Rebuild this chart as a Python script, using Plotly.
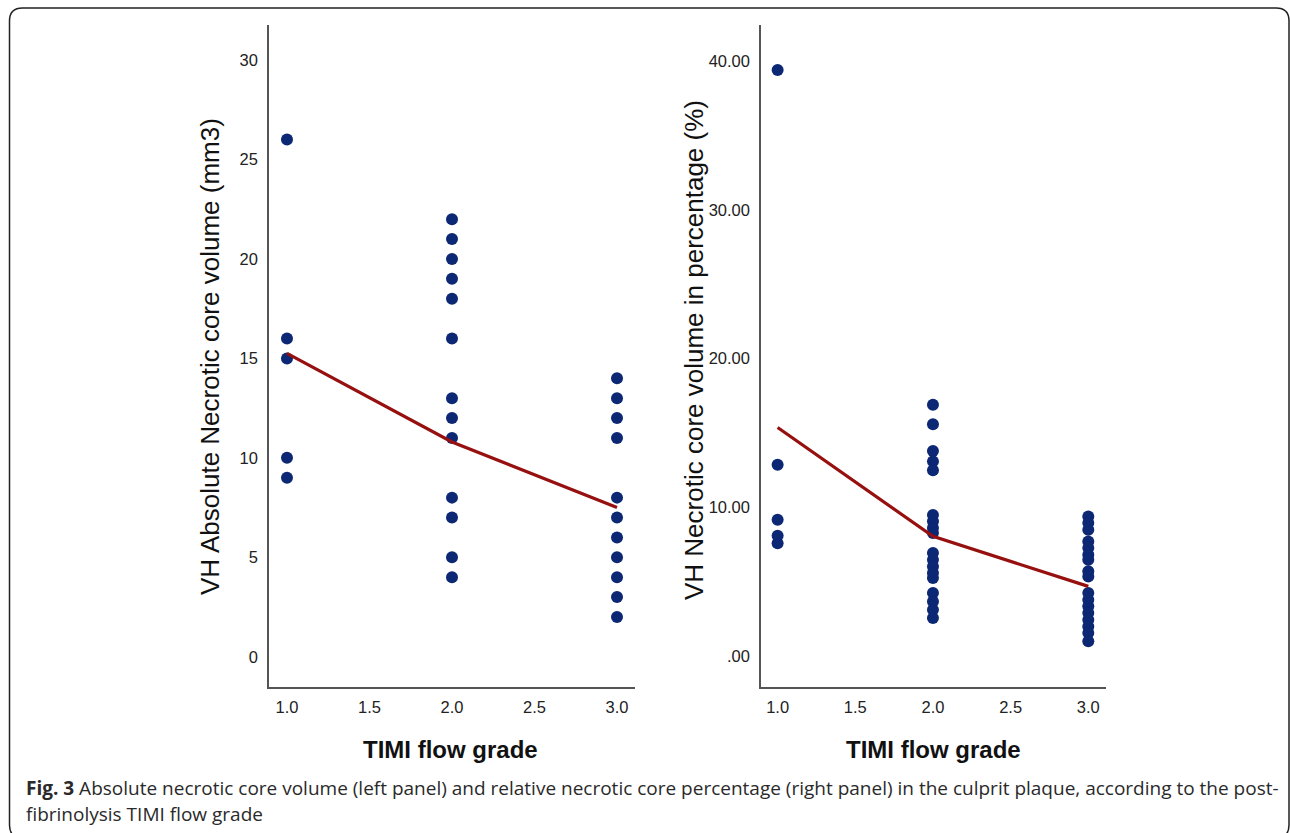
import plotly.graph_objects as go

W, H = 1290, 833

# ---- data ----
timi_grades = [1.0, 2.0, 3.0]

abs_grade1 = [26, 16, 15, 10, 9]
abs_grade2 = [22, 21, 20, 19, 18, 16, 13, 12, 11, 8, 7, 5, 4]
abs_grade3 = [14, 13, 12, 11, 8, 7, 6, 5, 4, 3, 2]
abs_means = [15.25, 10.8, 7.5]

pct_grade1 = [39.4, 12.87, 9.18, 8.1, 7.6]
pct_grade2 = [16.9, 15.6, 13.8, 13.1, 12.5, 9.5, 9.07, 8.62, 8.29,
              6.94, 6.49, 6.04, 5.6, 5.26, 4.26, 3.69, 3.13, 2.58]
pct_grade3 = [9.4, 8.96, 8.51, 7.72, 7.28, 6.83, 6.49, 5.71, 5.37,
              4.26, 3.81, 3.36, 2.91, 2.46, 2.01, 1.57, 1.01]
pct_means = [15.38, 8.06, 4.7]

x_tickvals = [1.0, 1.5, 2.0, 2.5, 3.0]
x_ticktext = ["1.0", "1.5", "2.0", "2.5", "3.0"]
left_y_tickvals = [0, 5, 10, 15, 20, 25, 30]
right_y_tickvals = [0, 10, 20, 30, 40]
right_y_ticktext = [".00", "10.00", "20.00", "30.00", "40.00"]

left_ytitle = "VH Absolute Necrotic core volume (mm3)"
right_ytitle = "VH Necrotic core volume in percentage (%)"
xtitle = "TIMI flow grade"
caption1 = "<b>Fig. 3</b> Absolute necrotic core volume (left panel) and relative necrotic core percentage (right panel) in the culprit plaque, according to the post-"
caption2 = "fibrinolysis TIMI flow grade"

MARK = "#0c2874"
LINE = "#971010"
AX = "#555555"


def px(x):
    return x / W


def py(y):
    return 1 - y / H


fig = go.Figure()


def add_panel(groups, means, xa, ya):
    xs, ys = [], []
    for g, vals in zip(timi_grades, groups):
        xs += [g] * len(vals)
        ys += vals
    fig.add_trace(go.Scatter(x=xs, y=ys, mode="markers", xaxis=xa, yaxis=ya,
                             marker=dict(size=12, color=MARK), showlegend=False,
                             hoverinfo="x+y"))
    fig.add_trace(go.Scatter(x=timi_grades, y=means, mode="lines", xaxis=xa, yaxis=ya,
                             line=dict(color=LINE, width=3.2), showlegend=False))


add_panel([abs_grade1, abs_grade2, abs_grade3], abs_means, "x", "y")
add_panel([pct_grade1, pct_grade2, pct_grade3], pct_means, "x2", "y2")

tickfont = dict(family="Liberation Sans, Arial, sans-serif", size=16.5, color="#222222")
common_x = dict(tickvals=x_tickvals, ticktext=x_ticktext, showgrid=False, zeroline=False,
                showline=True, linecolor=AX, linewidth=1.5, ticks="", ticklen=0,
                tickfont=tickfont, ticklabelstandoff=4)
common_y = dict(showgrid=False, zeroline=False, showline=True, linecolor=AX, linewidth=1.5,
                ticks="", tickfont=tickfont, ticklabelstandoff=6)

y_dom = [py(687), py(25)]
fig.update_layout(
    width=W, height=H, margin=dict(l=0, r=0, t=0, b=0),
    paper_bgcolor="white", plot_bgcolor="white",
    xaxis=dict(domain=[px(269), px(635)], range=[0.891, 3.109], anchor="y", **common_x),
    yaxis=dict(domain=y_dom, range=[-1.52, 31.76], anchor="x",
               tickvals=left_y_tickvals, **common_y),
    xaxis2=dict(domain=[px(761), px(1106)], range=[0.893, 3.114], anchor="y2", **common_x),
    yaxis2=dict(domain=y_dom, range=[-2.06, 42.42], anchor="x2",
                tickvals=right_y_tickvals, ticktext=right_y_ticktext, **common_y),
)

titlefont = dict(family="Liberation Sans, Arial, sans-serif", size=26, color="#111111")
xtitlefont = dict(family="Liberation Sans, Arial, sans-serif", size=24, color="#111111")
capfont = dict(family="Open Sans, sans-serif", size=19, color="#2a2a2a")
ann = [
    dict(x=px(210), y=py(357), text=left_ytitle, textangle=-90, font=titlefont),
    dict(x=px(694), y=py(350), text=right_ytitle, textangle=-90, font=titlefont),
    dict(x=px(450), y=py(749), text="<b>" + xtitle + "</b>", font=xtitlefont),
    dict(x=px(933), y=py(749), text="<b>" + xtitle + "</b>", font=xtitlefont),
    dict(x=px(24), y=py(788), text=caption1, xanchor="left", font=capfont),
    dict(x=px(24), y=py(814), text=caption2, xanchor="left", font=capfont),
]
for a in ann:
    a.update(xref="paper", yref="paper", showarrow=False)
    a.setdefault("xanchor", "center")
    a.setdefault("yanchor", "middle")
fig.update_layout(annotations=ann)

# rounded frame around figure
x0, y0, x1, y1, r = 9.5, 8, 1289, 838, 13
path = (f"M {px(x0 + r)},{py(y0)} L {px(x1 - r)},{py(y0)} "
        f"Q {px(x1)},{py(y0)} {px(x1)},{py(y0 + r)} L {px(x1)},{py(y1 - r)} "
        f"Q {px(x1)},{py(y1)} {px(x1 - r)},{py(y1)} L {px(x0 + r)},{py(y1)} "
        f"Q {px(x0)},{py(y1)} {px(x0)},{py(y1 - r)} L {px(x0)},{py(y0 + r)} "
        f"Q {px(x0)},{py(y0)} {px(x0 + r)},{py(y0)} Z")
fig.add_shape(type="path", path=path, xref="paper", yref="paper",
              line=dict(color="#222222", width=1.5), layer="above")

fig.write_html("out.html", config={"displayModeBar": False},
               post_script="document.body.style.margin='0';document.body.style.overflow='hidden';")
